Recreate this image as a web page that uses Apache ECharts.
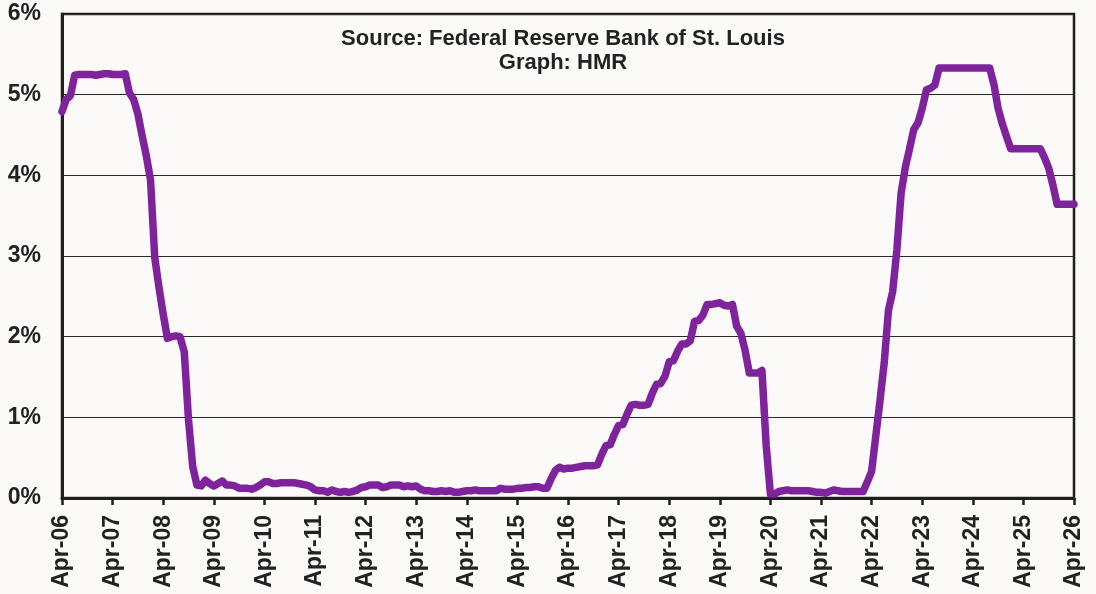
<!DOCTYPE html>
<html>
<head>
<meta charset="utf-8">
<script src="https://cdn.jsdelivr.net/npm/echarts@6/dist/echarts.min.js"></script>
<style>
html,body{margin:0;padding:0;background:#fbfaf9;}
#chart{width:1096px;height:594px;}
</style>
</head>
<body>
<div id="chart"></div>
<script>
// Monthly effective federal funds rate, Apr-2006 .. Apr-2026 (%)
const startYear = 2006, startMonth = 3; // April (0-based)
const monthNames = ['Jan','Feb','Mar','Apr','May','Jun','Jul','Aug','Sep','Oct','Nov','Dec'];

const rates2006 = [4.79, 4.94, 4.99, 5.24, 5.25, 5.25, 5.25, 5.25, 5.24]; // Apr-Dec
const rates2007 = [5.25, 5.26, 5.26, 5.25, 5.25, 5.25, 5.26, 5.02, 4.94, 4.76, 4.49, 4.24];
const rates2008 = [3.94, 2.98, 2.61, 2.28, 1.98, 2.00, 2.01, 2.00, 1.81, 0.97, 0.39, 0.16];
const rates2009 = [0.15, 0.22, 0.18, 0.15, 0.18, 0.21, 0.16, 0.16, 0.15, 0.12, 0.12, 0.12];
const rates2010 = [0.11, 0.13, 0.16, 0.20, 0.20, 0.18, 0.18, 0.19, 0.19, 0.19, 0.19, 0.18];
const rates2011 = [0.17, 0.16, 0.14, 0.10, 0.09, 0.09, 0.07, 0.10, 0.08, 0.07, 0.08, 0.07];
const rates2012 = [0.08, 0.10, 0.13, 0.14, 0.16, 0.16, 0.16, 0.13, 0.14, 0.16, 0.16, 0.16];
const rates2013 = [0.14, 0.15, 0.14, 0.15, 0.11, 0.09, 0.09, 0.08, 0.08, 0.09, 0.08, 0.09];
const rates2014 = [0.07, 0.07, 0.08, 0.09, 0.09, 0.10, 0.09, 0.09, 0.09, 0.09, 0.09, 0.12];
const rates2015 = [0.11, 0.11, 0.11, 0.12, 0.12, 0.13, 0.13, 0.14, 0.14, 0.12, 0.12, 0.24];
const rates2016 = [0.34, 0.38, 0.36, 0.37, 0.37, 0.38, 0.39, 0.40, 0.40, 0.40, 0.41, 0.54];
const rates2017 = [0.65, 0.66, 0.79, 0.90, 0.91, 1.04, 1.15, 1.16, 1.15, 1.15, 1.16, 1.30];
const rates2018 = [1.41, 1.42, 1.51, 1.69, 1.70, 1.82, 1.91, 1.91, 1.95, 2.19, 2.20, 2.27];
const rates2019 = [2.40, 2.40, 2.41, 2.42, 2.39, 2.38, 2.40, 2.13, 2.04, 1.83, 1.55, 1.55];
const rates2020 = [1.55, 1.58, 0.65, 0.05, 0.05, 0.08, 0.09, 0.10, 0.09, 0.09, 0.09, 0.09];
const rates2021 = [0.09, 0.08, 0.07, 0.07, 0.06, 0.08, 0.10, 0.09, 0.08, 0.08, 0.08, 0.08];
const rates2022 = [0.08, 0.08, 0.20, 0.33, 0.77, 1.21, 1.68, 2.33, 2.56, 3.08, 3.78, 4.10];
const rates2023 = [4.33, 4.57, 4.65, 4.83, 5.06, 5.08, 5.12, 5.33, 5.33, 5.33, 5.33, 5.33];
const rates2024 = [5.33, 5.33, 5.33, 5.33, 5.33, 5.33, 5.33, 5.33, 5.13, 4.83, 4.64, 4.48];
const rates2025 = [4.33, 4.33, 4.33, 4.33, 4.33, 4.33, 4.33, 4.33, 4.22, 4.09, 3.88, 3.64];
const rates2026 = [3.64, 3.64, 3.64, 3.64]; // Jan-Apr

const rates = [].concat(rates2006, rates2007, rates2008, rates2009, rates2010, rates2011,
  rates2012, rates2013, rates2014, rates2015, rates2016, rates2017, rates2018, rates2019,
  rates2020, rates2021, rates2022, rates2023, rates2024, rates2025, rates2026);

const categories = rates.map((v, i) => {
  const m = (startMonth + i) % 12;
  const y = startYear + Math.floor((startMonth + i) / 12);
  return monthNames[m] + '-' + String(y % 100).padStart(2, '0');
});

const yTicks = [0, 1, 2, 3, 4, 5, 6];

const chart = echarts.init(document.getElementById('chart'), null, {renderer: 'canvas'});
const font = '"Liberation Sans", Arial, sans-serif';
chart.setOption({
  backgroundColor: '#fbfaf9',
  animation: false,
  graphic: [{
    type: 'text',
    x: 563,
    y: 27,
    style: {
      text: 'Source: Federal Reserve Bank of St. Louis\nGraph: HMR',
      align: 'center',
      verticalAlign: 'top',
      font: 'bold 22px ' + font,
      fill: '#222',
      lineHeight: 24
    }
  }],
  grid: {
    left: 62, right: 22, top: 14, bottom: 96,
    show: true, borderColor: '#1e1e1e', borderWidth: 2.5, backgroundColor: 'transparent'
  },
  xAxis: {
    type: 'category',
    data: categories,
    boundaryGap: false,
    axisLine: {lineStyle: {color: '#1e1e1e', width: 3}},
    axisTick: {show: true, interval: 11, length: 7, inside: false, lineStyle: {color: '#1e1e1e', width: 2.5}},
    axisLabel: {
      interval: 11, rotate: 90, margin: 17,
      color: '#222', fontFamily: font, fontWeight: 'bold', fontSize: 23
    },
    splitLine: {show: false}
  },
  yAxis: {
    type: 'value',
    min: yTicks[0], max: yTicks[yTicks.length - 1], interval: 1,
    axisLine: {show: true, lineStyle: {color: '#1e1e1e', width: 3}},
    axisTick: {show: false},
    axisLabel: {
      formatter: '{value}%', margin: 21,
      color: '#222', fontFamily: font, fontWeight: 'bold', fontSize: 23
    },
    splitLine: {show: true, lineStyle: {color: '#2a2a2a', width: 1}}
  },
  series: [{
    type: 'line',
    data: rates,
    showSymbol: false,
    symbol: 'none',
    lineStyle: {color: '#7e239c', width: 7.5, join: 'round', cap: 'round'},
    z: 3
  }]
});
</script>
</body>
</html>
